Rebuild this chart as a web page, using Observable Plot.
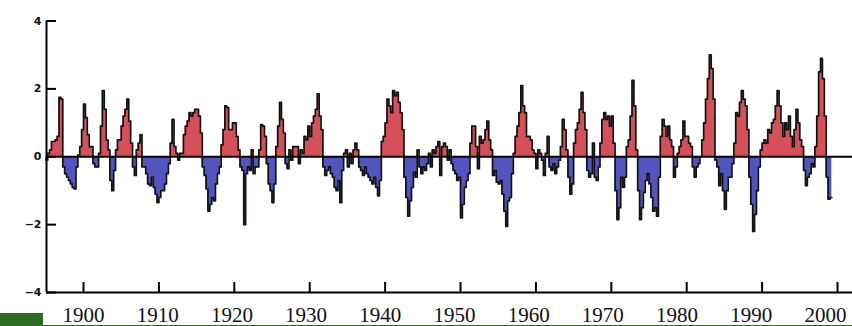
<!DOCTYPE html>
<html>
<head>
<meta charset="utf-8">
<script src="https://cdn.jsdelivr.net/npm/d3@7"></script>
<script src="https://cdn.jsdelivr.net/npm/@observablehq/plot@0.6"></script>
<style>
  html, body { margin: 0; padding: 0; background: #fff; }
  #chart { position: relative; width: 852px; height: 326px; overflow: hidden; }
</style>
</head>
<body>
<div id="chart"></div>
<script>
// Quarterly ENSO index values, first quarter of 1895 onward
const startYear = 1895;
const index1890s = [
  -0.1, 0.1, 0.2, 0.45,    // 1895
  0.45, 0.5, 0.6, 1.75,    // 1896
  1.7, -0.3, -0.5, -0.6,   // 1897
  -0.7, -0.8, -0.9, -0.95, // 1898
  -0.3, 0.05, 0.3, 0.8     // 1899
];
const index1900s = [
  1.55, 1.15, 0.65, 0.3,
  0.3, -0.2, -0.3, -0.3,
  0.1, 0.9, 1.95, 1.4,
  0.5, 0.2, -0.7, -1.0,
  -0.4, 0.2, 0.5, 0.5,
  0.9, 1.2, 1.4, 1.7,
  1.05, 0.4, -0.3, -0.55,
  0.2, 0.4, 0.65, -0.3,
  -0.3, -0.5, -0.8, -0.85,
  -0.6, -0.9, -1.1, -1.35
];
const index1910s = [
  -1.2, -1.0, -1.0, -0.8,
  -0.5, -0.2, 0.4, 1.1,
  0.3, 0.1, -0.1, 0.1,
  0.1, 0.65, 0.9, 1.05,
  1.3, 1.2, 1.3, 1.4,
  1.4, 1.2, 0.7, -0.3,
  -0.55, -0.95, -1.6, -1.4,
  -1.2, -1.3, -0.8, -0.5,
  -0.3, 0.35, 0.8, 1.5,
  1.45, 0.8, 0.8, 1.0
];
const index1920s = [
  1.0, 0.6, 0.2, -0.3,
  -0.4, -2.0, -0.5, -0.3,
  -0.4, 0.2, -0.5, -0.3,
  -0.3, 0.2, 0.95, 0.9,
  0.6, -0.2, -0.8, -1.0,
  -1.35, -0.8, 0.3, 0.9,
  1.6, 1.1, 0.7, -0.2,
  -0.35, 0.2, -0.1, 0.3,
  0.3, 0.3, -0.2, 0.2,
  0.1, 0.6, 0.5, 0.9
];
const index1930s = [
  0.6, 1.0, 1.2, 1.4,
  1.85, 1.2, 0.8, -0.3,
  -0.55, -0.4, -0.3, -0.5,
  -0.6, -0.9, -1.0, -0.7,
  -1.35, -0.4, 0.1, 0.2,
  -0.3, 0.1, -0.2, 0.2,
  0.4, 0.2, -0.3, -0.4,
  -0.55, -0.3, -0.5, -0.6,
  -0.7, -0.8, -0.6, -0.9,
  -1.15, -0.7, 0.45, 0.6
];
const index1940s = [
  1.0, 1.7, 1.5, 1.3,
  1.95, 1.8, 1.9, 1.6,
  1.3, 0.8, -0.6, -1.2,
  -1.75, -1.3, -0.9, -0.45,
  -0.6, 0.2, -0.3, -0.5,
  -0.3, -0.4, -0.2, 0.1,
  -0.3, 0.2, 0.1, 0.3,
  0.45, -0.55, 0.3, 0.4,
  0.3, -0.1, 0.2, -0.2,
  -0.4, -0.5, -0.7, -0.6
];
const index1950s = [
  -1.8, -1.4, -0.9, -0.7,
  -0.5, 0.4, 0.9, 0.9,
  0.3, -0.35, 0.6, 0.4,
  0.5, 0.8, 1.05, 0.5,
  0.2, -0.55, -0.4, -0.75,
  -0.8, -0.7, -1.1, -1.6,
  -2.05, -1.3, -1.2, -0.5,
  0.1, 0.6, 0.9, 1.3,
  2.1, 1.5, 1.3, 0.6,
  0.6, 0.5, 0.2, 0.1
];
const index1960s = [
  -0.35, 0.2, 0.1, -0.1,
  -0.55, 0.1, 0.6, -0.3,
  -0.4, -0.2, -0.5, -0.3,
  -0.1, 0.3, 1.1, 0.8,
  0.2, -0.6, -1.1, -0.8,
  0.4, 0.8, 1.0, 1.4,
  1.9, 1.3, 0.8, -0.4,
  -0.6, -0.5, 0.4, -0.6,
  -0.7, -0.3, 0.4, 1.1,
  1.3, 1.1, 1.2, 0.9
];
const index1970s = [
  1.2, 0.4, -1.0, -1.85,
  -1.5, -0.6, -0.9, -0.6,
  0.3, 0.5, 1.2, 2.25,
  1.5, 0.2, -1.0, -1.85,
  -1.5, -1.05, -0.7, -0.5,
  -0.8, -1.2, -1.6, -1.5,
  -1.75, -0.6, 0.6, 1.1,
  0.9, 0.6, 0.9, 0.5,
  0.3, -0.6, -0.3, 0.1,
  0.3, 0.5, 1.05, 0.6
];
const index1980s = [
  0.6, 0.4, 0.3, -0.3,
  -0.6, -0.3, -0.2, 0.0,
  0.5, 1.0, 1.7, 2.3,
  3.0, 2.6, 1.7, -0.1,
  -0.3, -0.85, -0.5, -1.0,
  -1.55, -1.0, -0.6, -0.6,
  -0.2, 0.4, 1.3, 1.2,
  1.6, 1.95, 1.7, 1.5,
  0.8, -0.6, -1.4, -2.2,
  -1.7, -1.0, -0.3, 0.2
];
const index1990s = [
  0.4, 0.5, 0.4, 0.8,
  0.7, 1.0, 1.1, 1.5,
  1.95, 1.5, 1.0, 0.6,
  1.0, 0.8, 1.2, 0.6,
  0.3, 0.8, 1.4, 1.0,
  0.5, 0.3, -0.4, -0.85,
  -0.6, -0.5, -0.2, -0.3,
  0.3, 1.2, 2.5, 2.9,
  2.3, 1.2, -0.6, -1.25,
  -1.2
];

const xTicks = [1900, 1910, 1920, 1930, 1940, 1950, 1960, 1970, 1980, 1990, 2000];
const yTicks = [-4, -2, 0, 2, 4];

const values = [index1890s, index1900s, index1910s, index1920s, index1930s,
  index1940s, index1950s, index1960s, index1970s, index1980s, index1990s].flat();
const series = values.map((v, i) => ({t: startYear + i / 4, v}));
// repeat the last value so the final quarter's step has width
series.push({t: startYear + values.length / 4, v: values[values.length - 1]});

const xMin = 1895.09, xMax = 2001.99;
const tickLenX = 10 / 7.54;   // inward tick length in years
const tickLenY = 10 / 33.9;   // inward tick length in index units
// year labels are set a little tighter than the ticks so the last one stays inside
const labelX = d => d - (d - 1900) * 0.016;

const chart = Plot.plot({
  width: 852,
  height: 326,
  marginLeft: 46,
  marginRight: 0,
  marginTop: 20.5,
  marginBottom: 34,
  x: {domain: [xMin, xMax], axis: null},
  y: {domain: [-4, 4], axis: null},
  style: {background: "transparent"},
  marks: [
    Plot.areaY(series, {x: "t", y: d => Math.max(0, d.v), curve: "step-after", fill: "#d6505a"}),
    Plot.areaY(series, {x: "t", y: d => Math.min(0, d.v), curve: "step-after", fill: "#5454bf"}),
    Plot.lineY(series, {x: "t", y: "v", curve: "step-after", stroke: "#111", strokeWidth: 1.7}),
    Plot.ruleY([0], {x1: xMin, x2: xMax, stroke: "#000", strokeWidth: 2}),
    // axis frame
    Plot.ruleX([xMin], {y1: -4, y2: 4, stroke: "#000", strokeWidth: 2}),
    Plot.ruleY([-4], {x1: xMin, x2: xMax, stroke: "#000", strokeWidth: 2}),
    // inward ticks
    Plot.ruleX(xTicks, {y1: -4, y2: -4 + tickLenY, stroke: "#000", strokeWidth: 2}),
    Plot.ruleY(yTicks, {x1: xMin, x2: xMin + tickLenX, stroke: "#000", strokeWidth: 2}),
    // tick labels
    Plot.text(xTicks, {x: labelX, y: -4, dy: 29, text: d => String(d), lineAnchor: "bottom",
      textAnchor: "middle", fontSize: 21, fontFamily: "Liberation Serif, serif", fill: "#111"}),
    Plot.text(yTicks, {x: xMin, y: d => d, dx: -5, text: d => d < 0 ? "\u2212" + Math.abs(d) : String(d),
      textAnchor: "end", fontSize: 11, fontWeight: "bold", fontFamily: "DejaVu Sans, sans-serif", fill: "#111"})
  ]
});

const svg = d3.select(chart);
svg.insert("rect", ":first-child").attr("x", 0).attr("y", 313).attr("width", 43).attr("height", 13).attr("fill", "#2e6a22");
svg.append("line").attr("x1", 0).attr("x2", 852).attr("y1", 325.5).attr("y2", 325.5)
  .attr("stroke", "#2e6a22").attr("stroke-width", 1);

document.getElementById("chart").appendChild(chart);
</script>
</body>
</html>
